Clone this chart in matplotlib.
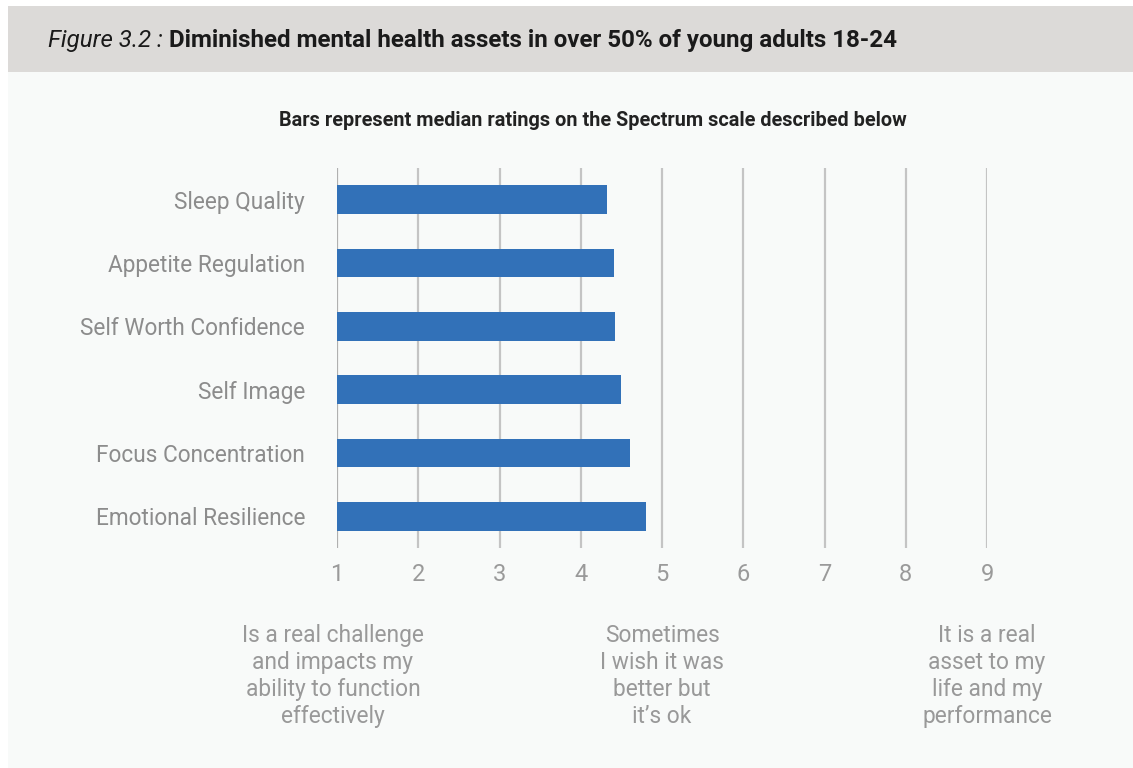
import matplotlib
matplotlib.use("Agg")
import matplotlib.pyplot as plt
from matplotlib.patches import Rectangle

categories = ["Sleep Quality", "Appetite Regulation", "Self Worth Confidence",
              "Self Image", "Focus Concentration", "Emotional Resilience"]
values = [4.32, 4.41, 4.42, 4.50, 4.61, 4.80]
ticks = [1, 2, 3, 4, 5, 6, 7, 8, 9]
scale_labels = ["Is a real challenge\nand impacts my\nability to function\neffectively",
                "Sometimes\nI wish it was\nbetter but\nit\u2019s ok",
                "It is a real\nasset to my\nlife and my\nperformance"]
scale_positions = [1, 5, 9]

W, H = 1133, 768
fig = plt.figure(figsize=(W / 100, H / 100), dpi=100)
fig.patch.set_facecolor("white")
FONT = "Roboto"

# panel background
fig.patches.append(Rectangle((8 / W, 0), 1 - 8 / W, 1 - 6 / H, transform=fig.transFigure,
                             facecolor="#f8faf9", edgecolor="none", zorder=-2))
# header band
fig.patches.append(Rectangle((8 / W, 1 - 72 / H), 1 - 8 / W, 66 / H, transform=fig.transFigure,
                             facecolor="#dcdad8", edgecolor="none", zorder=-1))

t1 = fig.text(48 / W, 1 - 40 / H, "Figure 3.2 : ", fontsize=17.4, style="italic",
              family=FONT, color="#1a1a1a", va="center", ha="left")
fig.canvas.draw()
bb = t1.get_window_extent()
fig.text(bb.x1 / W, 1 - 40 / H, "Diminished mental health assets in over 50% of young adults 18-24",
         fontsize=17.4, weight="bold", family=FONT, color="#1a1a1a", va="center", ha="left")

fig.text(593 / W, 1 - 120 / H, "Bars represent median ratings on the Spectrum scale described below",
         fontsize=14.3, weight="bold", family=FONT, color="#222222", ha="center", va="center")

ax_left, ax_right = 337, 987
ax_top, ax_bot = 168, 548
ax = fig.add_axes([ax_left / W, 1 - ax_bot / H, (ax_right - ax_left) / W, (ax_bot - ax_top) / H])
ax.set_facecolor("none")

y = list(range(len(categories)))
ax.barh(y, [v - 1 for v in values], left=1, height=0.45, color="#3271b8", zorder=3)
ax.set_ylim(len(categories) - 0.5, -0.5)
ax.set_xlim(1, 9)
for t in ticks:
    ax.axvline(t, color="#c4c4c4" if t != 1 else "#b0b0b0", lw=1.6, zorder=1)
for s in ax.spines.values():
    s.set_visible(False)
ax.set_yticks(y)
ax.set_yticklabels(categories, fontsize=16.3, family=FONT, color="#8c8c8c")
ax.set_xticks(ticks)
ax.set_xticklabels([str(t) for t in ticks], fontsize=17, family=FONT, color="#9a9a9a")
ax.tick_params(axis="both", length=0)
ax.tick_params(axis="y", pad=23)
ax.tick_params(axis="x", pad=11)

for pos, lab in zip(scale_positions, scale_labels):
    xf = ax.transData.transform((pos, 0))[0] / (W)
    fig.text(xf if pos != 1 else 333 / W, 1 - 676 / H, lab, fontsize=16.4, family=FONT,
             color="#999999", ha="center", va="center", linespacing=1.23)

fig.savefig("out.png", dpi=100, facecolor=fig.get_facecolor())
